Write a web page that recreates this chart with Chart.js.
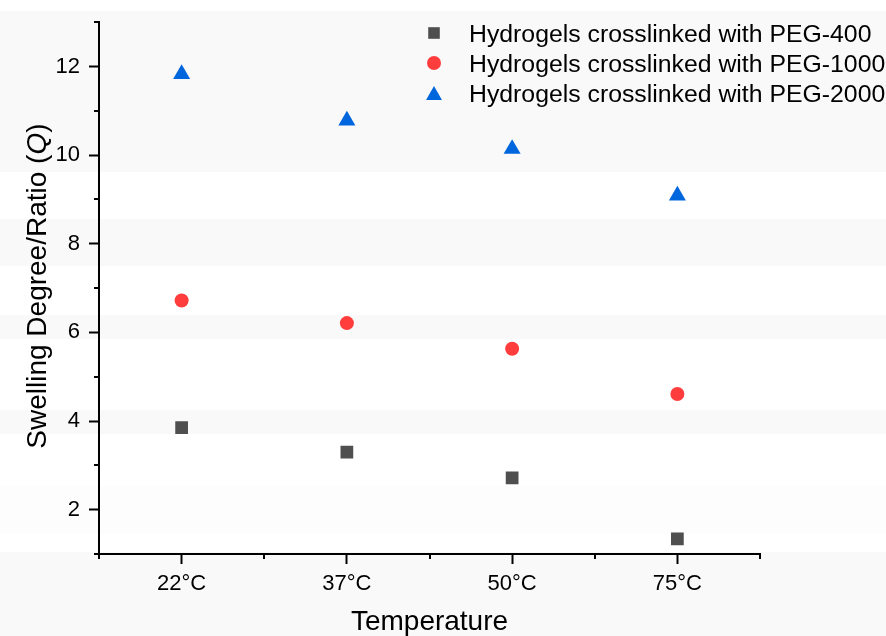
<!DOCTYPE html>
<html>
<head>
<meta charset="utf-8">
<title>Swelling ratio vs temperature</title>
<script src="https://cdn.jsdelivr.net/npm/chart.js@4.4.1/dist/chart.umd.min.js"></script>
<style>
  html, body { margin: 0; padding: 0; background: #fff; }
  /* faint horizontal banding behind the plot */
  #wrap {
    width: 886px;
    height: 636px;
    position: relative;
    background: linear-gradient(to bottom,
      #fff 0, #fff 11px, #f9f9f9 11px, #f9f9f9 172px, #fff 172px, #fff 219px,
      #f9f9f9 219px, #f9f9f9 266px, #fff 266px, #fff 315px,
      #f9f9f9 315px, #f9f9f9 339px, #fff 339px, #fff 410px,
      #f9f9f9 410px, #f9f9f9 434px, #fff 434px, #fff 486px,
      #fdfdfd 486px, #fdfdfd 534px, #fff 534px, #fff 552px,
      #f9f9f9 552px, #f9f9f9 636px);
  }
  canvas { display: block; }
</style>
</head>
<body>
<div id="wrap"><canvas id="swellingChart" width="886" height="636"></canvas></div>
<script>
// ===== DATA =====
const temperatures = ['22°C', '37°C', '50°C', '75°C'];
const peg400 = [3.85, 3.30, 2.72, 1.34];
const peg1000 = [6.72, 6.21, 5.63, 4.61];
const peg2000 = [11.83, 10.78, 10.14, 9.09];
const seriesLabels = [
    'Hydrogels crosslinked with PEG-400',
    'Hydrogels crosslinked with PEG-1000',
    'Hydrogels crosslinked with PEG-2000'
];
const yMin = 1;
const yMax = 13;

const FONT = "'Liberation Sans', Arial, sans-serif";

// ===== MINOR TICKS (odd y values, category boundaries on x) =====
const minorTicks = {
    id: 'minorTicks',
    afterDraw(chart) {
        const { ctx, chartArea, scales: { x, y } } = chart;
        ctx.save();
        ctx.strokeStyle = '#000';
        ctx.lineWidth = 2;
        ctx.beginPath();
        for (let v = yMin; v <= yMax; v += 2) {
            const py = Math.round(y.getPixelForValue(v));
            ctx.moveTo(chartArea.left, py);
            ctx.lineTo(chartArea.left - 5, py);
        }
        for (let i = 0; i <= temperatures.length; i++) {
            const px = Math.round(x.getPixelForValue(i - 0.5));
            ctx.moveTo(px, chartArea.bottom);
            ctx.lineTo(px, chartArea.bottom + 5);
        }
        ctx.stroke();
        ctx.restore();
    }
};

// ===== AXIS TITLES (y title has an italic Q) =====
const axisTitles = {
    id: 'axisTitles',
    afterDraw(chart) {
        const { ctx, chartArea } = chart;
        const normal = '28px ' + FONT;
        const italic = 'italic 28px ' + FONT;
        ctx.save();
        ctx.fillStyle = '#000';
        ctx.textBaseline = 'alphabetic';

        // x title
        ctx.font = normal;
        ctx.textAlign = 'center';
        ctx.fillText('Temperature', (chartArea.left + chartArea.right) / 2, 630);

        // y title, rotated
        const parts = [
            ['Swelling Degree/Ratio (', normal],
            ['Q', italic],
            [')', normal]
        ];
        let total = 0;
        parts.forEach(p => { ctx.font = p[1]; total += ctx.measureText(p[0]).width; });
        ctx.translate(46, (chartArea.top + chartArea.bottom) / 2 - 2);
        ctx.rotate(-Math.PI / 2);
        ctx.textAlign = 'left';
        let cx = -total / 2;
        parts.forEach(p => {
            ctx.font = p[1];
            ctx.fillText(p[0], cx, 0);
            cx += ctx.measureText(p[0]).width;
        });
        ctx.restore();
    }
};

// ===== LEGEND INSIDE THE PLOT =====
const markerLegend = {
    id: 'markerLegend',
    afterDraw(chart) {
        const { ctx } = chart;
        const markerX = 434;
        const textX = 469;
        const top = 33;
        const row = 30;
        ctx.save();
        chart.data.datasets.forEach((ds, i) => {
            const rowY = top + i * row;
            const r = ds.legendRadius;
            // triangles sit a little low around their anchor, shift to centre the box
            const my = ds.pointStyle === 'triangle' ? rowY + r / 4 : rowY;
            ctx.fillStyle = ds.pointBackgroundColor;
            Chart.helpers.drawPoint(ctx, {
                pointStyle: ds.pointStyle, radius: r, rotation: 0, borderWidth: 0
            }, markerX, my);
            ctx.fillStyle = '#000';
            ctx.font = '24.8px ' + FONT;
            ctx.textAlign = 'left';
            ctx.textBaseline = 'alphabetic';
            ctx.fillText(ds.label, textX, rowY + 8.5);
        });
        ctx.restore();
    }
};

// ===== CHART =====
function makeSeries(label, data, color, style, radius, legendRadius) {
    return {
        label: label,
        data: data,
        showLine: false,
        pointStyle: style,
        pointRadius: radius,
        pointHoverRadius: radius,
        pointBackgroundColor: color,
        pointBorderColor: color,
        pointBorderWidth: 0,
        legendRadius: legendRadius
    };
}

const ctx = document.getElementById('swellingChart');
new Chart(ctx, {
    type: 'line',
    data: {
        labels: temperatures,
        datasets: [
            makeSeries(seriesLabels[0], peg400, '#4f4f4f', 'rect', 9, 8.2),
            makeSeries(seriesLabels[1], peg1000, '#ff3d3d', 'circle', 7, 7),
            makeSeries(seriesLabels[2], peg2000, '#0066dd', 'triangle', 9.8, 9.2)
        ]
    },
    options: {
        responsive: false,
        animation: false,
        layout: { padding: { left: 0, top: 20, right: 126, bottom: 0 } },
        plugins: {
            legend: { display: false },
            tooltip: { enabled: false }
        },
        scales: {
            x: {
                type: 'category',
                offset: true,
                grid: {
                    drawOnChartArea: false,
                    offset: false,
                    tickLength: 10,
                    tickWidth: 2,
                    tickColor: '#000'
                },
                border: { color: '#000', width: 2 },
                ticks: {
                    color: '#000',
                    font: { size: 22, family: FONT },
                    padding: 7,
                    maxRotation: 0
                },
                afterFit: scale => { scale.height = 82; }
            },
            y: {
                min: yMin,
                max: yMax,
                grid: {
                    drawOnChartArea: false,
                    tickLength: 10,
                    tickWidth: 2,
                    tickColor: c => (c.tick && c.tick.value % 2 === 0) ? '#000' : 'rgba(0,0,0,0)'
                },
                border: { color: '#000', width: 2 },
                ticks: {
                    stepSize: 1,
                    autoSkip: false,
                    color: '#000',
                    font: { size: 22, family: FONT },
                    padding: 9,
                    callback: v => (v % 2 === 0 ? v : '')
                },
                afterFit: scale => { scale.width = 99; }
            }
        }
    },
    plugins: [minorTicks, axisTitles, markerLegend]
});
</script>
</body>
</html>
